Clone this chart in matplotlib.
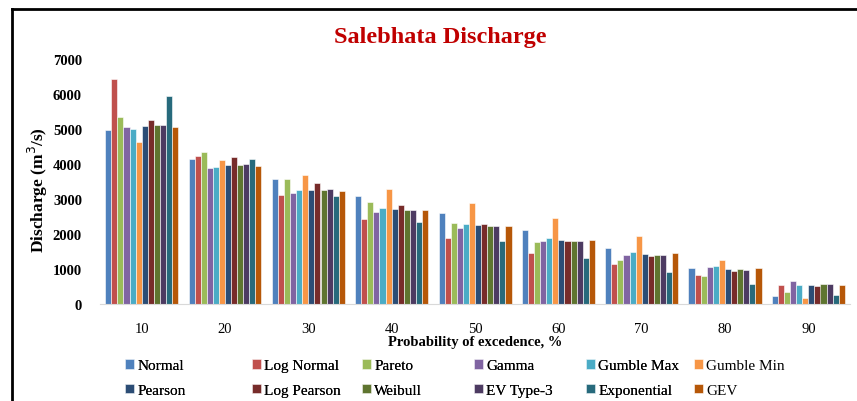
import numpy as np
import matplotlib.pyplot as plt
from matplotlib.lines import Line2D

plt.rcParams['font.family'] = ['Liberation Serif', 'DejaVu Serif']

# Probability of exceedence categories
probs = ['10', '20', '30', '40', '50', '60', '70', '80', '90']

# Discharge (m3/s) per distribution
normal      = [4980, 4150, 3560, 3080, 2600, 2110, 1610, 1040, 220]
log_normal  = [6420, 4230, 3110, 2420, 1890, 1470, 1140, 820, 540]
pareto      = [5340, 4350, 3560, 2910, 2310, 1770, 1260, 790, 330]
gamma       = [5060, 3900, 3170, 2620, 2180, 1790, 1410, 1050, 670]
gumble_max  = [5000, 3920, 3260, 2740, 2280, 1880, 1490, 1080, 550]
gumble_min  = [4630, 4120, 3700, 3300, 2900, 2460, 1950, 1260, 180]
pearson     = [5090, 3960, 3260, 2720, 2260, 1840, 1420, 1010, 540]
log_pearson = [5250, 4190, 3460, 2830, 2280, 1810, 1370, 950, 520]
weibull     = [5120, 3980, 3260, 2690, 2230, 1790, 1390, 990, 580]
ev_type3    = [5120, 4000, 3280, 2690, 2230, 1790, 1390, 960, 560]
exponential = [5950, 4150, 3090, 2340, 1800, 1310, 910, 560, 250]
gev         = [5060, 3930, 3220, 2680, 2240, 1820, 1450, 1040, 540]

series_names = ['Normal', 'Log Normal', 'Pareto', 'Gamma', 'Gumble Max', 'Gumble Min',
                'Pearson', 'Log Pearson', 'Weibull', 'EV Type-3', 'Exponential', 'GEV']
series_vals = [normal, log_normal, pareto, gamma, gumble_max, gumble_min,
               pearson, log_pearson, weibull, ev_type3, exponential, gev]
colors = ['#4F81BD', '#C0504D', '#9BBB59', '#8064A2', '#4BACC6', '#F79646',
          '#2C4D75', '#772C2A', '#5F7530', '#4D3B62', '#276A7C', '#B65708']

fig = plt.figure(figsize=(8.57, 4.02), dpi=100)
ax = fig.add_axes([100/857, 1-305/402, 750/857, 245/402])

x = np.arange(len(probs))
n = len(series_names)
w = 0.073
handles = []
for i, (name, vals, c) in enumerate(zip(series_names, series_vals, colors)):
    b = ax.bar(x + (i - (n - 1) / 2) * w, vals, width=w, color=c,
               edgecolor='white', linewidth=0.4, label=name)
    handles.append(b)

ax.set_xlim(-0.5, len(probs) - 0.5)
ax.set_ylim(0, 7000)
ax.set_yticks(np.arange(0, 7001, 1000))
ax.set_xticks(x)
ax.set_xticklabels(probs)
ax.tick_params(axis='both', length=0, labelsize=10.5)
ax.tick_params(axis='y', pad=13)
ax.tick_params(axis='x', pad=13)
for lab in ax.get_yticklabels():
    lab.set_fontweight('bold')

for s in ['top', 'right', 'left']:
    ax.spines[s].set_visible(False)
ax.spines['bottom'].set_color('#D9D9D9')

ax.set_xlabel('Probability of excedence, %', fontsize=10.5, fontweight='bold', labelpad=0)
ax.set_ylabel('Discharge (m$^3$/s)', fontsize=12.5, fontweight='bold')
ax.yaxis.set_label_coords((50 - 100) / 750, (305 - 190) / 245)

fig.text(440/857, 1-37/402, 'Salebhata Discharge', color='#C00000', fontsize=17.5,
         fontweight='bold', ha='center', va='center')

# legend: two rows, six fixed-width columns like the source
col_x = [125, 252, 362, 474, 586, 694]
for j, px in enumerate(col_x):
    leg = fig.legend([handles[j], handles[j + 6]], [series_names[j], series_names[j + 6]],
                     loc='upper left', bbox_to_anchor=(px/857, 1-360/402),
                     frameon=False, fontsize=11, handlelength=0.6, handleheight=0.6,
                     handletextpad=0.2, labelspacing=0.75, borderaxespad=0,
                     borderpad=0)
    if j < len(col_x) - 1:
        fig.add_artist(leg)

# border lines as in the source
fig.add_artist(Line2D([11.5/857, 11.5/857], [0, 1-9.5/402], color='black', lw=2))
fig.add_artist(Line2D([11.5/857, 1], [1-9.5/402, 1-9.5/402], color='black', lw=2))

fig.savefig('out.png', dpi=100)
